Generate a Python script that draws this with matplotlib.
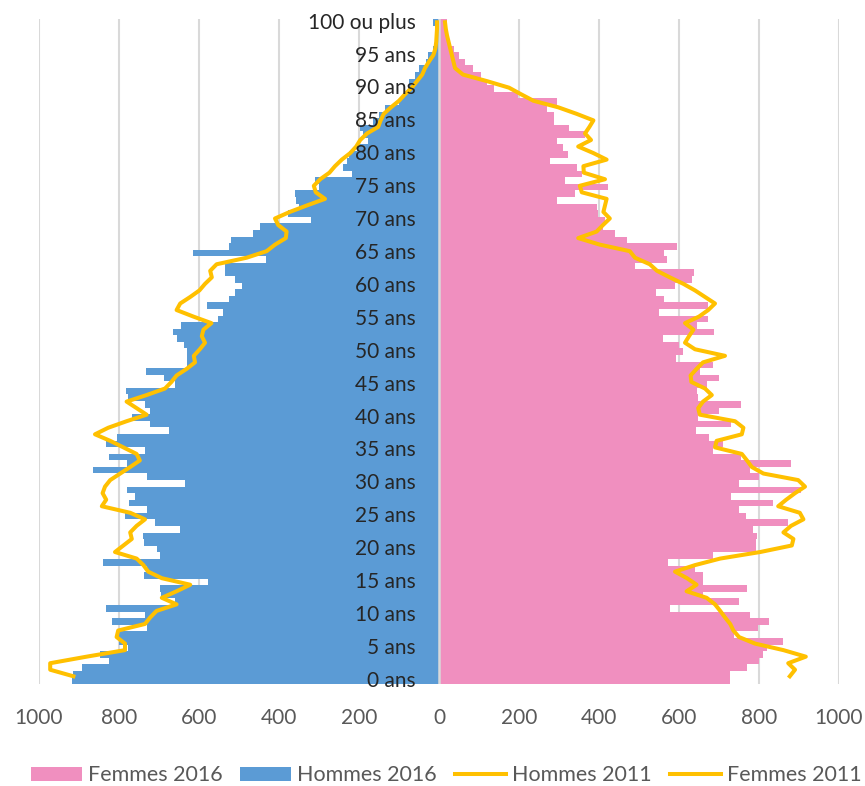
import numpy as np
import matplotlib
matplotlib.use("Agg")
import matplotlib.pyplot as plt
from matplotlib.patches import Patch
from matplotlib.lines import Line2D

plt.rcParams['font.family'] = ['Lato', 'DejaVu Sans']

# ---- data (index = age 0 .. 100 ou plus) ----
ages = np.arange(101)

hommes_2016 = np.array([
    918, 916, 893, 825, 847, 778, 800, 805, 731, 818,   # 0-9
    735, 832, 660, 695, 697, 578, 738, 731, 841, 697,   # 10-19
    706, 738, 741, 647, 710, 785, 731, 775, 760, 780,   # 20-29
    635, 731, 864, 781, 825, 735, 832, 806, 674, 722,   # 30-39
    768, 722, 735, 777, 782, 660, 687, 732, 631, 631,   # 40-49
    631, 637, 656, 666, 646, 552, 539, 581, 525, 510,   # 50-59
    493, 510, 535, 535, 433, 614, 525, 520, 466, 447,   # 60-69
    320, 377, 350, 358, 360, 300, 310, 218, 240, 231,   # 70-79
    225, 205, 177, 190, 197, 165, 150, 136, 100, 88,    # 80-89
    78, 75, 60, 50, 33, 28, 15, 9, 7, 6,                # 90-99
    15])                                                # 100+

femmes_2016 = np.array([
    727, 727, 769, 801, 809, 821, 859, 737, 797, 825,
    777, 577, 751, 661, 771, 659, 659, 640, 573, 684,
    792, 792, 794, 784, 873, 767, 751, 836, 729, 906,
    750, 800, 777, 879, 754, 686, 709, 676, 642, 731,
    648, 701, 754, 648, 644, 669, 700, 652, 684, 592,
    610, 601, 561, 688, 644, 673, 551, 672, 563, 543,
    590, 633, 637, 491, 569, 563, 594, 469, 440, 411,
    415, 398, 394, 294, 340, 423, 315, 357, 344, 277,
    323, 311, 294, 365, 326, 288, 287, 271, 294, 198,
    138, 120, 105, 85, 65, 50, 38, 25, 22, 20,
    19])

hommes_2011 = np.array([
    914, 972, 972, 881, 785, 785, 806, 802, 735, 722,
    706, 656, 693, 656, 622, 693, 727, 739, 756, 810,
    789, 768, 772, 756, 735, 772, 843, 832, 841, 835,
    822, 797, 772, 748, 756, 789, 822, 860, 827, 781,
    731, 756, 781, 731, 685, 669, 656, 631, 610, 613,
    598, 585, 593, 589, 569, 614, 656, 647, 622, 599,
    585, 568, 572, 556, 481, 431, 410, 383, 381, 402,
    410, 373, 330, 285, 308, 313, 297, 274, 260, 243,
    222, 207, 197, 180, 152, 146, 138, 120, 100, 85,
    68, 55, 42, 35, 25, 14, 9, 7, 6, 5,
    5])

femmes_2011 = np.array([
    877, 890, 873, 917, 861, 790, 750, 736, 728, 715,
    703, 690, 669, 619, 644, 620, 590, 640, 703, 803,
    882, 886, 861, 880, 911, 902, 848, 868, 890, 915,
    898, 811, 782, 770, 757, 690, 694, 757, 761, 740,
    652, 648, 660, 682, 665, 631, 629, 644, 660, 715,
    640, 615, 625, 636, 615, 650, 673, 690, 665, 640,
    611, 577, 545, 527, 490, 477, 402, 348, 394, 410,
    427, 411, 415, 419, 357, 352, 415, 362, 361, 419,
    386, 348, 380, 365, 376, 386, 344, 298, 236, 205,
    175, 120, 60, 40, 36, 32, 28, 24, 20, 17,
    15])

x_ticks = [-1000, -800, -600, -400, -200, 0, 200, 400, 600, 800, 1000]
x_tick_labels = ["1000", "800", "600", "400", "200", "0", "200", "400", "600", "800", "1000"]
age_label_pos = list(range(0, 101, 5))
age_labels = [f"{a} ans" for a in range(0, 100, 5)] + ["100 ou plus"]
series_names = ["Femmes 2016", "Hommes 2016", "Hommes 2011", "Femmes 2011"]

PINK = "#F08FBF"
BLUE = "#5B9BD5"
YELLOW = "#FFC000"
GRID = "#D9D9D9"
TXT = "#595959"

fig = plt.figure(figsize=(8.65, 7.86), dpi=100)
ax = fig.add_axes([0.04509, 0.12977, 0.92486, 0.84555])

ax.barh(ages, -hommes_2016, height=1.0, color=BLUE, linewidth=0, zorder=2)
ax.barh(ages, femmes_2016, height=1.0, color=PINK, linewidth=0, zorder=2)
ax.axvline(0, color=GRID, lw=1.8, zorder=3)

ax.set_xlim(-1000, 1000)
ax.set_ylim(-0.5, 100.5)
ax.set_xticks(x_ticks)
ax.set_xticklabels(x_tick_labels, color=TXT, fontsize=15)
ax.tick_params(axis='x', length=0, pad=17)
ax.set_yticks([])
ax.xaxis.grid(True, color=GRID, lw=1.5)
ax.set_axisbelow(True)
for s in ax.spines.values():
    s.set_visible(False)

# lines on a secondary vertical scale (as in the original chart)
ax2 = ax.twinx()
ax2.set_ylim(-1.18, 100.44)
ax2.plot(-hommes_2011, ages, color=YELLOW, lw=2.9, zorder=2)
ax2.plot(femmes_2011, ages, color=YELLOW, lw=2.9, zorder=2)
ax2.set_yticks([])
for s in ax2.spines.values():
    s.set_visible(False)

for pos, lab in zip(age_label_pos, age_labels):
    ax2.text(-59, pos, lab, transform=ax.transData, ha='right', va='center',
             fontsize=15, color="#262626", zorder=6)

handles = [Patch(facecolor=PINK, edgecolor='none'),
           Patch(facecolor=BLUE, edgecolor='none'),
           Line2D([0], [0], color=YELLOW, lw=2.9),
           Line2D([0], [0], color=YELLOW, lw=2.9)]
fig.legend(handles, series_names, loc='center', bbox_to_anchor=(0.5156, 0.0134),
           ncol=4, frameon=False, fontsize=15.5, handlelength=2.37, handleheight=0.6,
           handletextpad=0.28, columnspacing=0.84, labelcolor=TXT,
           borderaxespad=0, borderpad=0)

fig.savefig("out.png", dpi=100)
